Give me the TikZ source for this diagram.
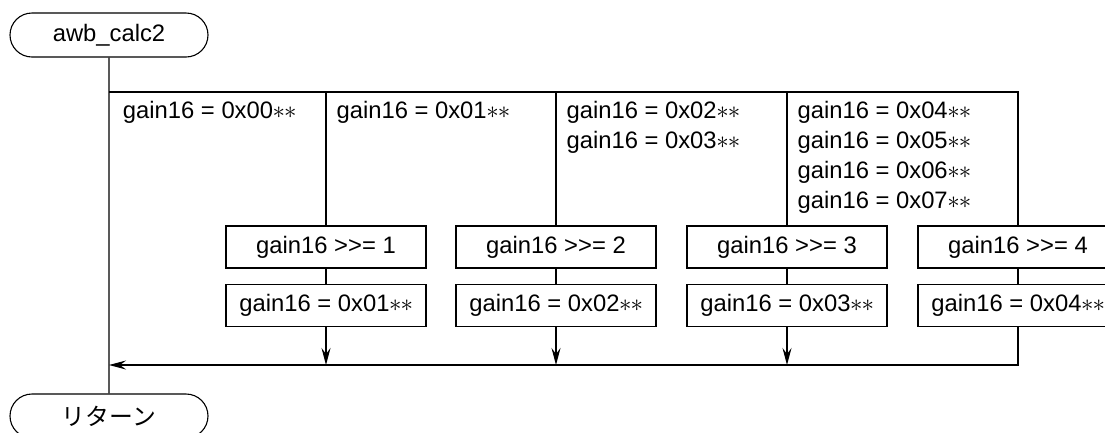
\documentclass[tikz,border=0pt]{standalone}
\usepackage{fontspec}
\setmainfont{Liberation Sans}
\newfontfamily\jpfont{Noto Sans CJK JP}
\usetikzlibrary{arrows.meta,shapes.misc}
\newcommand\onestar{\makebox[11.5pt]{\fontsize{28}{28}\selectfont$\ast$}}
\newcommand\stars{\onestar\onestar}
\newcommand\shr{>{}>=}
\begin{document}
\begin{tikzpicture}[x=1pt,y=-1pt,line width=1.1pt,
  every node/.style={font=\fontsize{23.8}{30}\selectfont},
  term/.style={draw,rounded rectangle,minimum width=198pt,minimum height=44pt,inner sep=0pt},
  proc/.style={draw,minimum width=200pt,minimum height=42pt,inner sep=0pt},
  lbl/.style={anchor=north west,align=left,inner sep=0pt},
  arr/.style={-{Stealth[length=17pt,width=9pt,inset=6pt]}}]
\useasboundingbox (0,0) rectangle (1105,432);
\node[term] (start) at (109,35) {awb\_calc2};
\node[term] (ret) at (109,416) {\jpfont リターン};
% case labels
\node[lbl] (t0) at (122.4,101) {gain16 = 0x00\stars};
\node[lbl] (t1) at (336,101) {gain16 = 0x01\stars};
\node[lbl] (t2) at (566,101) {gain16 = 0x02\stars\\gain16 = 0x03\stars};
\node[lbl] (t3) at (797,101) {gain16 = 0x04\stars\\gain16 = 0x05\stars\\gain16 = 0x06\stars\\gain16 = 0x07\stars};
% process boxes
\node[proc] (s1) at (326,247) {gain16 \shr{} 1};
\node[proc] (s2) at (556,247) {gain16 \shr{} 2};
\node[proc] (s3) at (787,247) {gain16 \shr{} 3};
\node[proc] (s4) at (1018,247) {gain16 \shr{} 4};
\node[proc] (r1) at (326,305.5) {gain16 = 0x01\stars};
\node[proc] (r2) at (556,305.5) {gain16 = 0x02\stars};
\node[proc] (r3) at (787,305.5) {gain16 = 0x03\stars};
\node[proc] (r4) at (1018,305.5) {gain16 = 0x04\stars};
% junctions
\coordinate (b0) at (109,92);
\coordinate (b1) at (326,92);
\coordinate (b2) at (556,92);
\coordinate (b3) at (787,92);
\coordinate (b4) at (1018,92);
\coordinate (m0) at (109,365);
\coordinate (m1) at (326,365);
\coordinate (m2) at (556,365);
\coordinate (m3) at (787,365);
% connectors
\draw (start) -- (ret);
\draw (b0) -- (b4) -- (s4);
\draw (b1) -- (s1);
\draw (b2) -- (s2);
\draw (b3) -- (s3);
\draw (s1) -- (r1);
\draw (s2) -- (r2);
\draw (s3) -- (r3);
\draw (s4) -- (r4);
\draw[arr] (r1) -- (m1);
\draw[arr] (r2) -- (m2);
\draw[arr] (r3) -- (m3);
\draw[arr] (r4.south) |- (m0);
\end{tikzpicture}
\end{document}
